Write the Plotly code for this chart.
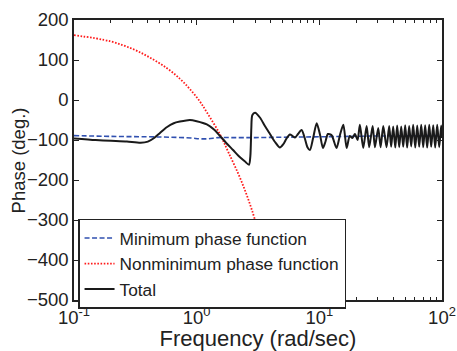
import plotly.graph_objects as go

# ---- data ----
min_freq = [0.1, 0.2, 0.4, 0.6, 0.9, 1.06, 1.25, 1.5, 2.0, 3.0, 5.0, 10.0, 30.0, 100.0]
min_phase = [-89, -91, -92, -93, -95, -97, -97, -94, -94, -94, -93, -92, -90, -89]

nonmin_freq = [0.1, 0.196, 0.304, 0.416, 0.569, 0.731, 0.882, 1.064, 1.206, 1.55, 1.81, 2.33, 2.99, 4.35, 4.6]
nonmin_phase = [162, 147, 127, 106, 80, 53, 27, -4, -30, -86, -130, -205, -300, -495, -535]

total_freq = [0.1, 0.15, 0.2, 0.27, 0.35, 0.40, 0.45, 0.50, 0.57, 0.65, 0.73, 0.88, 1.0, 1.21,
              1.4, 1.55, 1.75, 1.98, 2.2, 2.48, 2.67, 2.74, 2.79, 2.84, 2.99, 3.3, 3.6, 3.96,
              4.35, 4.77, 5.1, 5.41, 5.76, 6.05, 6.33, 6.7, 7.17, 7.6, 8.0, 8.38, 8.9, 9.51,
              10.1, 10.7, 11.2, 11.75, 12.6, 13.8, 14.8, 15.7, 16.7, 17.7, 18.6, 19.5, 20.5,
              21.4, 22.8, 24.3, 25.5, 27.2, 28.4, 30.2, 31.6, 33.2, 35.3, 37.1, 38.5, 40.0,
              41.6, 43.1, 44.8, 46.5, 48.3, 50.1, 52.0, 54.0, 56.1, 58.2, 60.5, 62.8, 65.2,
              67.7, 70.3, 72.9, 75.7, 78.7, 81.6, 84.8, 88.0, 91.4, 94.9, 98.5, 100.0]
total_phase = [-96, -100, -102, -104, -107, -104, -95, -83, -68, -58, -54, -50, -53, -61,
               -75, -90, -108, -125, -140, -154, -162, -140, -70, -38, -32, -45, -65, -85,
               -105, -119, -110, -96, -86, -90, -94, -85, -75, -95, -118, -125, -95, -58,
               -85, -120, -105, -85, -88, -120, -85, -62, -120, -90, -95, -85, -100,
               -62, -120, -65, -118, -65, -118, -70, -118, -65, -118, -65, -117, -66,
               -119, -64, -118, -66, -117, -63, -119, -65, -116, -62, -119, -64, -117,
               -62, -118, -63, -119, -62, -117, -63, -119, -62, -118, -64, -95]

x_tickvals = [0.1, 1, 10, 100]
x_ticktext = ["10<sup>-1</sup>", "10<sup>0</sup>", "10<sup>1</sup>", "10<sup>2</sup>"]
y_tickvals = [200, 100, 0, -100, -200, -300, -400, -500]

minor_vals = [m * d for d in (0.1, 1, 10) for m in range(2, 10)]

FONT = "Liberation Sans, Arial, Helvetica, sans-serif"
FS = 18.5

fig = go.Figure()
fig.add_trace(go.Scatter(x=min_freq, y=min_phase, mode="lines", name="Minimum phase function",
                         line=dict(color="#3050b0", width=1.6, dash="5px,2.5px", shape="spline")))
fig.add_trace(go.Scatter(x=nonmin_freq, y=nonmin_phase, mode="lines", name="Nonminimum phase function",
                         line=dict(color="#ff1a1a", width=1.8, dash="1.6px,1.6px", shape="spline")))
fig.add_trace(go.Scatter(x=total_freq, y=total_phase, mode="lines", name="Total",
                         line=dict(color="#1a1a1a", width=2, shape="spline", smoothing=0.7)))

fig.update_layout(
    width=457, height=351,
    margin=dict(l=74, r=15, t=20, b=51),
    paper_bgcolor="white", plot_bgcolor="white",
    font=dict(family=FONT, size=FS, color="#222222"),
    showlegend=True,
    legend=dict(x=0.011, y=0.29, xanchor="left", yanchor="top",
                bgcolor="white", bordercolor="#222222", borderwidth=1.5,
                font=dict(size=17.3), itemwidth=30, tracegroupgap=0),
    annotations=[dict(text="Phase (deg.)", textangle=-90, xref="paper", yref="paper",
                      x=-0.151, y=0.5, xanchor="center", yanchor="middle", showarrow=False,
                      font=dict(size=FS, family=FONT, color="#222222"))],
)
fig.update_xaxes(type="log", range=[-1, 2], tickvals=x_tickvals, ticktext=x_ticktext,
                 ticks="inside", ticklen=5, tickcolor="#222222", showline=True, automargin=False,
                 linecolor="#222222", linewidth=1.5, mirror="ticks", showgrid=False, zeroline=False,
                 minor=dict(tickvals=minor_vals, ticks="inside", ticklen=3, tickcolor="#222222", showgrid=False),
                 title=dict(text="Frequency (rad/sec)", standoff=2))
fig.update_yaxes(range=[-500, 200], tickvals=y_tickvals, automargin=False,
                 ticks="inside", ticklen=5, tickcolor="#222222", showline=True,
                 linecolor="#222222", linewidth=1.5, mirror="ticks", showgrid=False, zeroline=False)

fig.write_html("out.html", config={"displayModeBar": False},
               post_script="document.body.style.margin='0';")
